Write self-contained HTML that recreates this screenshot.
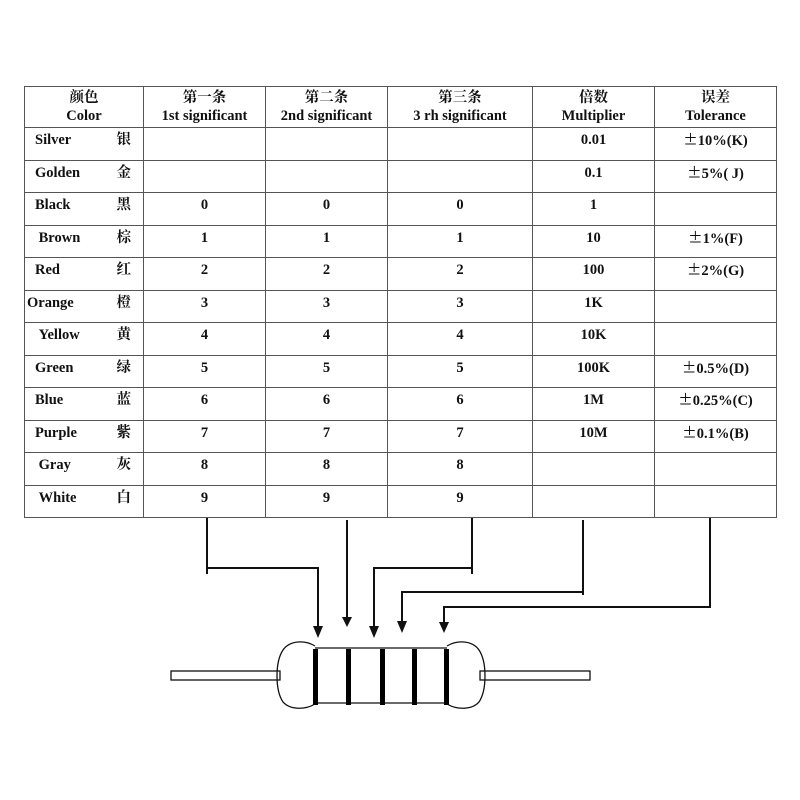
<!DOCTYPE html>
<html><head><meta charset="utf-8"><style>
body{margin:0;background:#fff;width:800px;height:800px;position:relative;overflow:hidden}
table{position:absolute;left:24px;top:86px;border-collapse:collapse;font-family:"Liberation Serif","Noto Serif CJK SC",serif;font-weight:bold;font-size:14.5px;color:#111}
td{border:1px solid #555;padding:0;text-align:center;vertical-align:top;line-height:18px;box-sizing:border-box}
tr.h td{height:41px;padding-top:2px;line-height:18px;vertical-align:top}
tr.r td{height:32.5px;padding-top:3px}
td.c{text-align:left;padding-left:10px;position:relative}
td.c span{position:absolute;right:12px;top:3px}
b.pm{font-family:"Noto Sans CJK SC",sans-serif;font-weight:normal}
</style></head><body>
<table>
<colgroup><col style="width:119px"><col style="width:122px"><col style="width:122px"><col style="width:145px"><col style="width:122px"><col style="width:122px"></colgroup>
<tr class="h"><td>颜色<br>Color</td><td>第一条<br>1st significant</td><td>第二条<br>2nd significant</td><td>第三条<br>3 rh significant</td><td>倍数<br>Multiplier</td><td>误差<br>Tolerance</td></tr>
<tr class="r"><td class="c">Silver<span>银</span></td><td></td><td></td><td></td><td>0.01</td><td><b class="pm">±</b>10%(K)</td></tr>
<tr class="r"><td class="c">Golden<span>金</span></td><td></td><td></td><td></td><td>0.1</td><td><b class="pm">±</b>5%( J)</td></tr>
<tr class="r"><td class="c">Black<span>黑</span></td><td>0</td><td>0</td><td>0</td><td>1</td><td></td></tr>
<tr class="r"><td class="c">&nbsp;Brown<span>棕</span></td><td>1</td><td>1</td><td>1</td><td>10</td><td><b class="pm">±</b>1%(F)</td></tr>
<tr class="r"><td class="c">Red<span>红</span></td><td>2</td><td>2</td><td>2</td><td>100</td><td><b class="pm">±</b>2%(G)</td></tr>
<tr class="r"><td class="c" style="padding-left:2px">Orange<span>橙</span></td><td>3</td><td>3</td><td>3</td><td>1K</td><td></td></tr>
<tr class="r"><td class="c">&nbsp;Yellow<span>黄</span></td><td>4</td><td>4</td><td>4</td><td>10K</td><td></td></tr>
<tr class="r"><td class="c">Green<span>绿</span></td><td>5</td><td>5</td><td>5</td><td>100K</td><td><b class="pm">±</b>0.5%(D)</td></tr>
<tr class="r"><td class="c">Blue<span>蓝</span></td><td>6</td><td>6</td><td>6</td><td>1M</td><td><b class="pm">±</b>0.25%(C)</td></tr>
<tr class="r"><td class="c">Purple<span>紫</span></td><td>7</td><td>7</td><td>7</td><td>10M</td><td><b class="pm">±</b>0.1%(B)</td></tr>
<tr class="r"><td class="c">&nbsp;Gray<span>灰</span></td><td>8</td><td>8</td><td>8</td><td></td><td></td></tr>
<tr class="r"><td class="c">&nbsp;White<span>白</span></td><td>9</td><td>9</td><td>9</td><td></td><td></td></tr>
</table>
<svg width="800" height="800" style="position:absolute;left:0;top:0" fill="none" stroke="#111" stroke-width="2">
<polyline points="207,518 207,574"/><polyline points="207,568 318,568 318,628"/>
<polyline points="347,520 347,617"/>
<polyline points="472,518 472,574"/><polyline points="472,568 374,568 374,628"/>
<polyline points="583,520 583,595"/><polyline points="583,592 402,592 402,622"/>
<polyline points="710,518 710,607 444,607 444,623"/>
<g fill="#111" stroke="none">
<polygon points="313,626 323,626 318,638"/>
<polygon points="342,617 352,617 347,627"/>
<polygon points="369,626 379,626 374,638"/>
<polygon points="397,621 407,621 402,633"/>
<polygon points="439,622 449,622 444,633"/>
</g>
<g stroke-width="1.3">
<rect x="171" y="671" width="109" height="9"/>
<rect x="480" y="671" width="110" height="9"/>
<path d="M315,648 L447,648 M315,703 L447,703"/>
<path d="M315,646 C305,640 290,640 283,650 C275,662 275,690 283,702 C290,710 305,710 315,704"/>
<path d="M447,646 C457,640 472,640 479,650 C487,662 487,690 479,702 C472,710 457,710 447,704"/>
</g>
<g fill="#000" stroke="none">
<rect x="313" y="649" width="5" height="56"/>
<rect x="346" y="649" width="5" height="56"/>
<rect x="380" y="649" width="5" height="56"/>
<rect x="412" y="649" width="5" height="56"/>
<rect x="444" y="649" width="5" height="56"/>
</g>
</svg>
</body></html>
